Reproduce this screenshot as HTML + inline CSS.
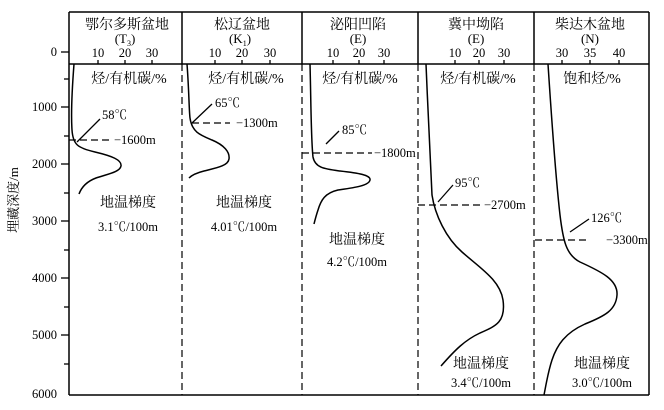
<!DOCTYPE html>
<html><head><meta charset="utf-8"><style>
html,body{margin:0;padding:0;background:#fff;}
svg{display:block;}
text{font-family:"Liberation Serif","Noto Serif CJK SC",serif;fill:#000;}
</style></head><body>
<svg width="664" height="410" viewBox="0 0 664 410" xmlns="http://www.w3.org/2000/svg">
<g stroke="#000" fill="none" stroke-width="1.5">
<line x1="69" y1="12" x2="649" y2="12"/>
<line x1="69" y1="12" x2="69" y2="395"/>
<line x1="649" y1="12" x2="649" y2="395"/>
<line x1="69" y1="64" x2="649" y2="64"/>
<line x1="69" y1="395" x2="649" y2="395"/>
<line x1="182" y1="12" x2="182" y2="64"/>
<line x1="302" y1="12" x2="302" y2="64"/>
<line x1="418" y1="12" x2="418" y2="64"/>
<line x1="534" y1="12" x2="534" y2="64"/>
</g>
<g stroke="#000" fill="none" stroke-width="1.2" stroke-dasharray="7,4">
<line x1="182" y1="64" x2="182" y2="395"/>
<line x1="302" y1="64" x2="302" y2="395"/>
<line x1="418" y1="64" x2="418" y2="395"/>
<line x1="534" y1="64" x2="534" y2="395"/>
<line x1="69" y1="140" x2="110" y2="140"/>
<line x1="192" y1="123" x2="230" y2="123"/>
<line x1="302" y1="153" x2="372" y2="153"/>
<line x1="418" y1="205" x2="480" y2="205"/>
<line x1="535" y1="240" x2="588" y2="240"/>
</g>
<g stroke="#000" stroke-width="1.3">
<line x1="61" y1="52" x2="69" y2="52"/>
<line x1="64" y1="79" x2="69" y2="79"/>
<line x1="61" y1="107" x2="69" y2="107"/>
<line x1="64" y1="136" x2="69" y2="136"/>
<line x1="61" y1="164" x2="69" y2="164"/>
<line x1="64" y1="193" x2="69" y2="193"/>
<line x1="61" y1="221" x2="69" y2="221"/>
<line x1="64" y1="250" x2="69" y2="250"/>
<line x1="61" y1="278" x2="69" y2="278"/>
<line x1="64" y1="307" x2="69" y2="307"/>
<line x1="61" y1="335" x2="69" y2="335"/>
<line x1="64" y1="364" x2="69" y2="364"/>
<line x1="98" y1="60" x2="98" y2="64"/><line x1="125" y1="60" x2="125" y2="64"/><line x1="152" y1="60" x2="152" y2="64"/>
<line x1="215" y1="60" x2="215" y2="64"/><line x1="242" y1="60" x2="242" y2="64"/><line x1="270" y1="60" x2="270" y2="64"/>
<line x1="333" y1="60" x2="333" y2="64"/><line x1="359" y1="60" x2="359" y2="64"/><line x1="384" y1="60" x2="384" y2="64"/>
<line x1="455" y1="60" x2="455" y2="64"/><line x1="479" y1="60" x2="479" y2="64"/><line x1="504" y1="60" x2="504" y2="64"/>
<line x1="562" y1="60" x2="562" y2="64"/><line x1="590" y1="60" x2="590" y2="64"/><line x1="619" y1="60" x2="619" y2="64"/>
<line x1="77" y1="142" x2="100" y2="119"/>
<line x1="192" y1="123" x2="212" y2="104"/>
<line x1="326" y1="144" x2="339" y2="131"/>
<line x1="438" y1="202" x2="453" y2="185"/>
<line x1="570" y1="232" x2="589" y2="219"/>
</g>
<g stroke="#000" fill="none" stroke-width="1.5">
<path d="M74,64 C72,90 71,115 72,130 C73,145 78,148 95,152 C112,156 122,160 121,166 C120,172 108,174 96,178 C88,181 82,186 79,194"/>
<path d="M187,64 C189,90 189,110 190,118 C192,132 200,135 212,140 C224,145 230,152 229,159 C228,166 216,168 204,171 C196,173 191,176 189,178"/>
<path d="M310,64 C311,100 311,140 313,157 C315,168 325,169 340,171 C358,173 371,175 370,180 C369,186 352,188 338,190 C325,193 321,200 318,210 C316,216 315,220 314,224"/>
<path d="M426,64 C428,110 430,160 432,195 C435,215 446,238 462,252 C480,268 500,280 503,300 C506,322 496,326 480,333 C465,340 455,350 441,366"/>
<path d="M548,64 C551,110 556,180 560,215 C563,240 566,255 580,262 C602,272 618,280 617,295 C616,310 605,316 585,324 C565,333 557,345 552,360 C548,372 546,385 544,395"/>
</g>
<g font-size="14" text-anchor="middle">
<text x="127" y="29">鄂尔多斯盆地</text>
<text x="125" y="43" font-size="13">(T<tspan font-size="8" dy="3">3</tspan><tspan dy="-3">)</tspan></text>
<text x="242" y="29">松辽盆地</text>
<text x="240" y="43" font-size="13">(K<tspan font-size="8" dy="3">1</tspan><tspan dy="-3">)</tspan></text>
<text x="358" y="29">泌阳凹陷</text>
<text x="358" y="43" font-size="13">(E)</text>
<text x="476" y="29">冀中坳陷</text>
<text x="476" y="43" font-size="13">(E)</text>
<text x="590" y="29">柴达木盆地</text>
<text x="590" y="43" font-size="13">(N)</text>
</g>
<g font-size="12.5" text-anchor="middle">
<text x="98" y="57">10</text><text x="125" y="57">20</text><text x="152" y="57">30</text>
<text x="215" y="57">10</text><text x="242" y="57">20</text><text x="270" y="57">30</text>
<text x="333" y="57">10</text><text x="359" y="57">20</text><text x="384" y="57">30</text>
<text x="455" y="57">10</text><text x="479" y="57">20</text><text x="504" y="57">30</text>
<text x="562" y="57">30</text><text x="590" y="57">35</text><text x="619" y="57">40</text>
</g>
<g font-size="12.5" text-anchor="end">
<text x="57" y="56">0</text><text x="57" y="111">1000</text><text x="57" y="168">2000</text>
<text x="57" y="225">3000</text><text x="57" y="282">4000</text><text x="57" y="339">5000</text><text x="57" y="398">6000</text>
</g>
<text x="18" y="200" font-size="13" text-anchor="middle" transform="rotate(-90 18 200)">埋藏深度/m</text>
<g font-size="14" text-anchor="middle">
<text x="129" y="83">烃/有机碳/%</text>
<text x="246" y="83">烃/有机碳/%</text>
<text x="360" y="83">烃/有机碳/%</text>
<text x="478" y="83">烃/有机碳/%</text>
<text x="592" y="83">饱和烃/%</text>
<text x="128" y="207">地温梯度</text>
<text x="128" y="231" font-size="12.5">3.1℃/100m</text>
<text x="244" y="207">地温梯度</text>
<text x="244" y="231" font-size="12.5">4.01℃/100m</text>
<text x="357" y="244">地温梯度</text>
<text x="357" y="266" font-size="12.5">4.2℃/100m</text>
<text x="481" y="368">地温梯度</text>
<text x="481" y="387" font-size="12.5">3.4℃/100m</text>
<text x="602" y="368">地温梯度</text>
<text x="602" y="387" font-size="12.5">3.0℃/100m</text>
</g>
<g font-size="12.5">
<text x="102" y="119">58℃</text>
<text x="114" y="144">−1600m</text>
<text x="215" y="107">65℃</text>
<text x="236" y="127">−1300m</text>
<text x="342" y="134">85℃</text>
<text x="374" y="157">−1800m</text>
<text x="455" y="187">95℃</text>
<text x="484" y="209">−2700m</text>
<text x="591" y="222">126℃</text>
<text x="606" y="244">−3300m</text>
</g>
</svg>
</body></html>
